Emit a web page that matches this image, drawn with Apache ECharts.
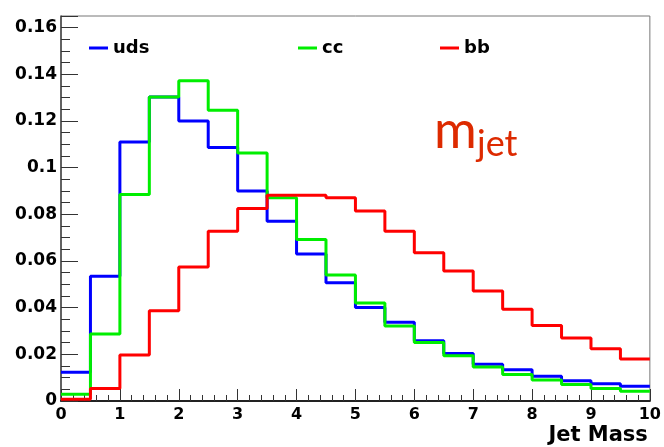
<!DOCTYPE html>
<html>
<head>
<meta charset="utf-8">
<script src="https://cdn.jsdelivr.net/npm/echarts@6/dist/echarts.min.js"></script>
<style>
html,body{margin:0;padding:0;background:#fff;}
#chart{width:664px;height:447px;}
</style>
</head>
<body>
<div id="chart"></div>
<script>
// Lower edges of the histogram bins (Jet Mass)
var binLow = [0, 0.5, 1, 1.5, 2, 2.5, 3, 3.5, 4, 4.5, 5, 5.5, 6, 6.5, 7, 7.5, 8, 8.5, 9, 9.5];
var binHigh = 10;
var uds = [0.0123, 0.0535, 0.111, 0.1303, 0.120, 0.1086, 0.090, 0.077, 0.063, 0.0507,
           0.0401, 0.0337, 0.0258, 0.0204, 0.0158, 0.0134, 0.0106, 0.0087, 0.0074, 0.0063];
var cc  = [0.0029, 0.0287, 0.0885, 0.1303, 0.1372, 0.1246, 0.1063, 0.0871, 0.0692, 0.054,
           0.042, 0.0321, 0.0251, 0.0194, 0.0146, 0.0114, 0.009, 0.0071, 0.0054, 0.0042];
var bb  = [0.0008, 0.0054, 0.0197, 0.0387, 0.0574, 0.0727, 0.0825, 0.0882, 0.0882, 0.0871,
           0.0814, 0.0728, 0.0635, 0.0557, 0.0471, 0.0393, 0.0324, 0.027, 0.0224, 0.018];
var seriesNames = ['uds', 'cc', 'bb'];
var seriesColors = ['#0000ff', '#00ee00', '#ff0000'];
var xTicks = { min: 0, max: 10, interval: 1 };
var yTicks = { min: 0, max: 0.165, interval: 0.02 };

function histData(vals) {
  var d = binLow.map(function (x, i) { return [x, vals[i]]; });
  d.push([binHigh, vals[vals.length - 1]]);
  return d;
}

var FONT = 'DejaVu Sans';
var chart = echarts.init(document.getElementById('chart'), null, { renderer: 'canvas' });
var allVals = [uds, cc, bb];

var legendLefts = [84, 293, 435];
var option = {
  animation: false,
  backgroundColor: '#fff',
  grid: { left: 61, top: 16, right: 11, bottom: 46, show: true, borderColor: '#777', borderWidth: 1, backgroundColor: 'transparent' },
  legend: seriesNames.map(function (n, i) {
    return {
      data: [n], left: legendLefts[i], top: 34, icon: 'rect', itemWidth: 19, itemHeight: 3, itemGap: 5,
      textStyle: { fontFamily: FONT, fontWeight: 'bold', fontSize: 18, color: '#000' }
    };
  }),
  xAxis: {
    type: 'value', min: xTicks.min, max: xTicks.max, interval: xTicks.interval,
    name: 'Jet Mass', nameLocation: 'end', nameGap: -2,
    nameTextStyle: { fontFamily: FONT, fontWeight: 'bold', fontSize: 21, color: '#000', align: 'right', verticalAlign: 'top', padding: [24, 0, 0, 0] },
    axisLine: { show: true, onZero: false, lineStyle: { color: '#222', width: 2 } },
    axisTick: { show: true, inside: true, length: 12, lineStyle: { color: '#333', width: 1 } },
    minorTick: { show: true, splitNumber: 5, length: 6, lineStyle: { color: '#333', width: 1 } },
    splitLine: { show: false },
    axisLabel: { fontFamily: FONT, fontWeight: 'bold', fontSize: 16, color: '#000', margin: 6 }
  },
  yAxis: {
    type: 'value', min: yTicks.min, max: yTicks.max, interval: yTicks.interval,
    axisLine: { show: true, onZero: false, lineStyle: { color: '#444', width: 1.5 } },
    axisTick: { show: true, inside: true, length: 17, lineStyle: { color: '#333', width: 1 } },
    minorTick: { show: true, splitNumber: 4, length: 9, lineStyle: { color: '#333', width: 1 } },
    splitLine: { show: false },
    axisLabel: { fontFamily: FONT, fontWeight: 'bold', fontSize: 17, color: '#000', margin: 4, showMaxLabel: false }
  },
  graphic: [
    { type: 'text', left: 434, top: 105, z: 100,
      style: { text: 'm', font: '52px Lato', fill: '#dd2a00' } },
    { type: 'text', left: 477, top: 126, z: 100,
      style: { text: 'jet', font: '36px Lato', fill: '#dd2a00' } }
  ],
  series: seriesNames.map(function (n, i) {
    return {
      name: n, type: 'line', step: 'end', showSymbol: false, symbol: 'none',
      data: histData(allVals[i]),
      itemStyle: { color: seriesColors[i] },
      lineStyle: { color: seriesColors[i], width: 3 },
      z: 2 + i
    };
  })
};
chart.setOption(option);
</script>
</body>
</html>
